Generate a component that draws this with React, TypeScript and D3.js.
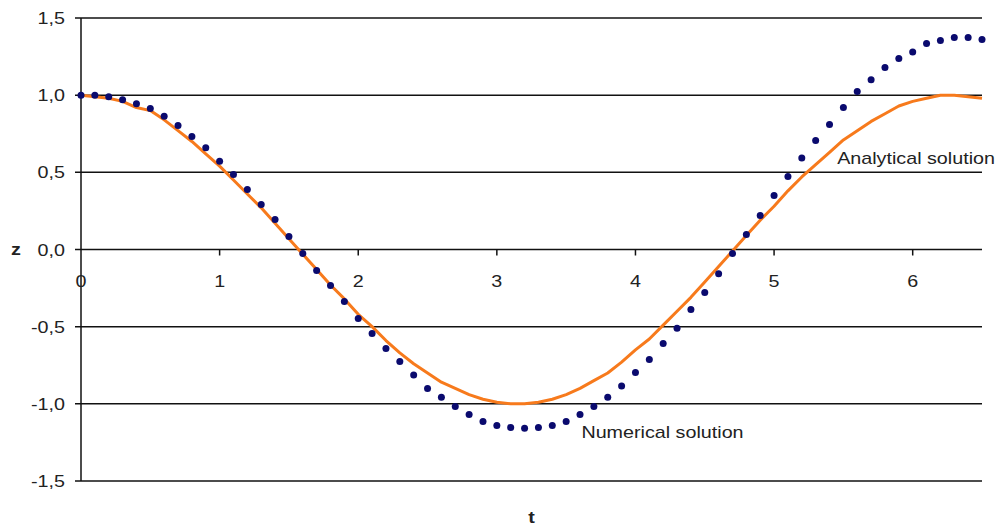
import { useEffect, useRef } from 'react';
import * as d3 from 'd3';

// time steps (dt = 0.1)
const tSteps = [
  0, 0.1, 0.2, 0.3, 0.4, 0.5, 0.6, 0.7, 0.8, 0.9,
  1.0, 1.1, 1.2, 1.3, 1.4, 1.5, 1.6, 1.7, 1.8, 1.9,
  2.0, 2.1, 2.2, 2.3, 2.4, 2.5, 2.6, 2.7, 2.8, 2.9,
  3.0, 3.1, 3.2, 3.3, 3.4, 3.5, 3.6, 3.7, 3.8, 3.9,
  4.0, 4.1, 4.2, 4.3, 4.4, 4.5, 4.6, 4.7, 4.8, 4.9,
  5.0, 5.1, 5.2, 5.3, 5.4, 5.5, 5.6, 5.7, 5.8, 5.9,
  6.0, 6.1, 6.2, 6.3, 6.4, 6.5,
];

const analytical = [
  1.0, 0.99, 0.98, 0.96, 0.92, 0.9, 0.84, 0.77, 0.7, 0.62,
  0.54, 0.45, 0.36, 0.27, 0.17, 0.07, -0.03, -0.13, -0.23, -0.32,
  -0.42, -0.5, -0.59, -0.67, -0.74, -0.8, -0.86, -0.9, -0.94, -0.97,
  -0.99, -1.0, -1.0, -0.99, -0.97, -0.94, -0.9, -0.85, -0.8, -0.73,
  -0.65, -0.58, -0.49, -0.4, -0.31, -0.21, -0.11, -0.01, 0.09, 0.19,
  0.28, 0.38, 0.47, 0.55, 0.63, 0.71, 0.77, 0.83, 0.88, 0.93,
  0.96, 0.98, 1.0, 1.0, 0.99, 0.98,
];

const numerical = [
  1.0, 1.0, 0.99, 0.97, 0.945, 0.913, 0.863, 0.803, 0.732, 0.659,
  0.572, 0.486, 0.389, 0.291, 0.194, 0.084, -0.026, -0.136, -0.233, -0.337,
  -0.447, -0.544, -0.641, -0.725, -0.813, -0.9, -0.958, -1.017, -1.069, -1.114,
  -1.14, -1.153, -1.159, -1.153, -1.14, -1.114, -1.069, -1.017, -0.958, -0.885,
  -0.797, -0.713, -0.609, -0.51, -0.389, -0.278, -0.157, -0.026, 0.097, 0.22,
  0.35, 0.473, 0.593, 0.706, 0.81, 0.92, 1.023, 1.1, 1.18, 1.237,
  1.28, 1.334, 1.354, 1.373, 1.373, 1.36,
];

const xTicks = [0, 1, 2, 3, 4, 5, 6];
const yTicks = [-1.5, -1.0, -0.5, 0.0, 0.5, 1.0, 1.5];

const fmtComma = (v: number) => v.toFixed(1).replace('.', ',');

export default function App() {
  const svgRef = useRef<SVGSVGElement>(null);
  const width = 998;
  const height = 526;

  useEffect(() => {
    if (!svgRef.current) return;
    const svg = d3.select(svgRef.current);
    svg.selectAll('*').remove();

    const margin = { top: 18, right: 16, bottom: 45, left: 81 };
    const x = d3.scaleLinear().domain([0, 6.5]).range([margin.left, width - margin.right]);
    const y = d3.scaleLinear().domain([-1.5, 1.5]).range([height - margin.bottom, margin.top]);

    const font = "'Liberation Sans', Arial, sans-serif";
    const textColor = '#222';
    const gridColor = '#111';
    const stretch = 1.16; // reference text is a bit wide

    // text helper: position via transform so it can be stretched horizontally
    const label = (px: number, py: number, txt: string, size: number, anchor = 'start', bold = false) =>
      svg.append('text')
        .attr('transform', `translate(${px},${py}) scale(${stretch},1)`)
        .attr('text-anchor', anchor)
        .style('font-family', font)
        .style('font-size', `${size}px`)
        .style('font-weight', bold ? 'bold' : 'normal')
        .style('fill', textColor)
        .text(txt);

    svg.append('rect').attr('width', width).attr('height', height).attr('fill', '#fff');

    // horizontal grid lines with left tick marks
    svg.append('g')
      .selectAll('line')
      .data(yTicks)
      .enter().append('line')
      .attr('x1', x(0) - 6)
      .attr('x2', x(6.5))
      .attr('y1', d => y(d))
      .attr('y2', d => y(d))
      .attr('stroke', gridColor)
      .attr('stroke-width', 1.5);

    // y axis line
    svg.append('line')
      .attr('x1', x(0)).attr('x2', x(0))
      .attr('y1', y(1.5)).attr('y2', y(-1.5))
      .attr('stroke', gridColor)
      .attr('stroke-width', 1.5);

    // y tick labels
    yTicks.forEach(d => label(x(0) - 16, y(d) + 6, fmtComma(d), 17, 'end'));

    // x tick marks on zero line
    svg.append('g')
      .selectAll('line')
      .data(xTicks.slice(1))
      .enter().append('line')
      .attr('x1', d => x(d)).attr('x2', d => x(d))
      .attr('y1', y(0)).attr('y2', y(0) + 6)
      .attr('stroke', gridColor)
      .attr('stroke-width', 1.5);

    // x tick labels
    xTicks.forEach(d => label(x(d), y(0) + 37, String(d), 17, 'middle'));

    // axis titles
    label(16, y(0) + 5, 'z', 17, 'middle', true);
    label((x(0) + x(6.5)) / 2, height - 3, 't', 17, 'middle', true);

    // analytical solution line
    const pts = tSteps.map((t, i) => ({ t, a: analytical[i], n: numerical[i] }));
    const line = d3.line<{ t: number; a: number }>()
      .x(d => x(d.t))
      .y(d => y(d.a));

    svg.append('path')
      .datum(pts)
      .attr('fill', 'none')
      .attr('stroke', '#f77a1c')
      .attr('stroke-width', 3)
      .attr('stroke-linejoin', 'round')
      .attr('d', line);

    // numerical solution dots
    svg.append('g')
      .selectAll('circle')
      .data(pts)
      .enter().append('circle')
      .attr('cx', d => x(d.t))
      .attr('cy', d => y(d.n))
      .attr('r', 3.5)
      .attr('fill', '#0a0a6e');

    // series labels
    label(x(5.455), y(0.5) - 8, 'Analytical solution', 17);
    label(x(3.61), y(-1.224), 'Numerical solution', 17);
  }, []);

  return (
    <div style={{ position: 'absolute', left: 0, top: 0 }}>
      <svg ref={svgRef} width={width} height={height} style={{ display: 'block' }} />
    </div>
  );
}
